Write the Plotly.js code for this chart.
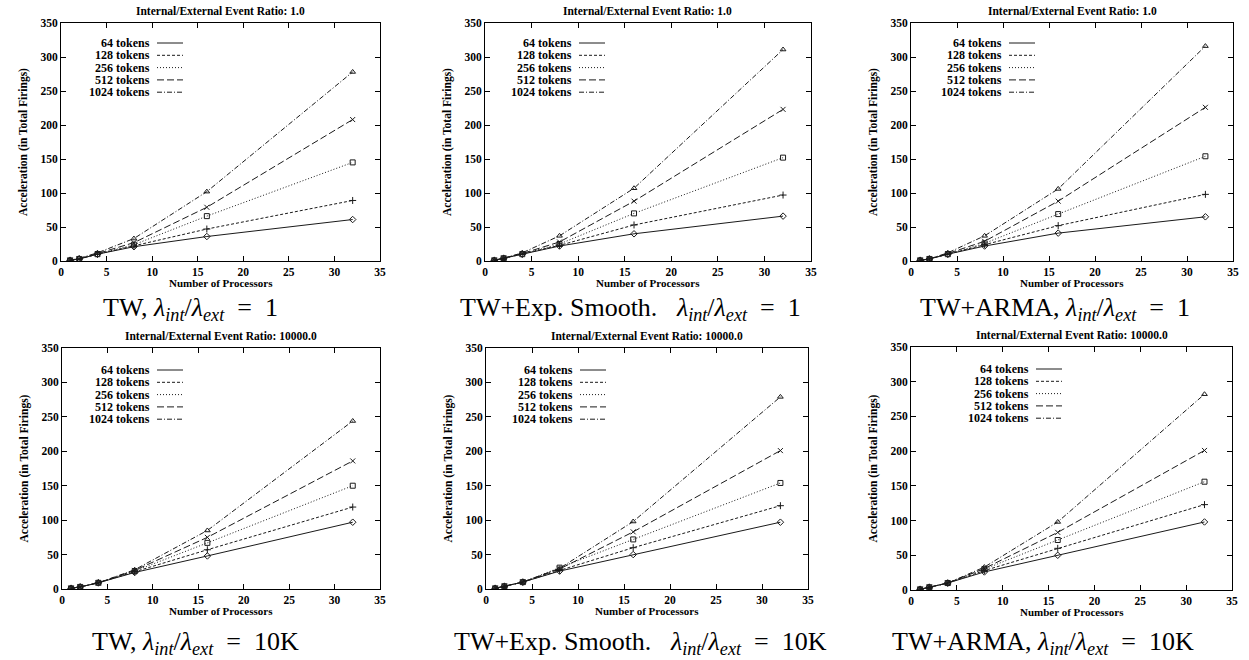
<!DOCTYPE html>
<html>
<head>
<meta charset="utf-8">
<script src="https://cdn.plot.ly/plotly-3.0.1.min.js"></script>
<style>html,body{margin:0;padding:0;background:#fff;}#chart{width:1249px;height:660px;}</style>
</head>
<body>
<div id="chart"></div>
<script>
// ---------- data ----------
const processors = [1, 2, 4, 8, 16, 32];
const tokenLabels = ['64 tokens', '128 tokens', '256 tokens', '512 tokens', '1024 tokens'];
const panelTitles = [
  'Internal/External Event Ratio: 1.0',
  'Internal/External Event Ratio: 1.0',
  'Internal/External Event Ratio: 1.0',
  'Internal/External Event Ratio: 10000.0',
  'Internal/External Event Ratio: 10000.0',
  'Internal/External Event Ratio: 10000.0'
];
const methodNames = ['TW,', 'TW+Exp. Smooth.', 'TW+ARMA,', 'TW,', 'TW+Exp. Smooth.', 'TW+ARMA,'];
const ratioLabels = ['1', '1', '1', '10K', '10K', '10K'];
const xTitle = 'Number of Processors';
const yTitle = 'Acceleration (in Total Firings)';

// rows: 64, 128, 256, 512, 1024 tokens
const twRatio1 = [
  [1, 3, 10, 21, 36, 61],
  [1, 3, 10, 22, 47, 89],
  [1, 3, 10, 24, 66, 145],
  [1, 3, 11, 27, 79, 208],
  [1, 4, 12, 33, 102, 278]
];
const expRatio1 = [
  [1, 4, 10, 22, 40, 66],
  [1, 4, 10, 23, 53, 97],
  [1, 4, 10, 25, 70, 152],
  [1, 4, 11, 28, 88, 223],
  [1, 4, 12, 37, 107, 311]
];
const armaRatio1 = [
  [1, 3, 10, 22, 41, 65],
  [1, 3, 10, 24, 52, 98],
  [1, 3, 10, 26, 69, 154],
  [1, 3, 11, 29, 88, 226],
  [1, 3, 12, 37, 106, 316]
];
const twRatio10K = [
  [1, 3, 9, 24, 48, 97],
  [1, 3, 9, 25, 57, 119],
  [1, 3, 9, 26, 67, 150],
  [1, 3, 9, 27, 75, 186],
  [1, 3, 9, 28, 85, 244]
];
const expRatio10K = [
  [1, 4, 10, 26, 50, 97],
  [1, 4, 10, 27, 60, 121],
  [1, 4, 10, 31, 72, 154],
  [1, 4, 10, 29, 83, 201],
  [1, 4, 10, 30, 98, 279]
];
const armaRatio10K = [
  [1, 4, 10, 26, 50, 98],
  [1, 4, 10, 28, 60, 123],
  [1, 4, 10, 30, 72, 156],
  [1, 4, 10, 31, 83, 201],
  [1, 4, 10, 33, 98, 282]
];
const panelData = [twRatio1, expRatio1, armaRatio1, twRatio10K, expRatio10K, armaRatio10K];

// ---------- layout / style ----------
const W = 1249, H = 660;
// plot frames in pixels: [left, right, top, bottom]
const frames = [
  [61, 380, 23, 261],
  [485, 811, 23, 261],
  [911, 1233, 23, 261],
  [62, 380, 348, 589],
  [486, 808, 348, 589],
  [911, 1232, 347, 590]
];
// legend text right edge offset from frame left, first-row offset from frame top
const legendPos = [[91, 20], [89, 20], [93, 20], [90, 22], [89, 22], [120, 22]];
const captionPos = [[190, 309], [630, 309], [1055, 309], [195, 643], [640, 643], [1043, 643]];
const methodGap = ['\u00a0', '\u00a0\u00a0\u00a0', '\u00a0', '\u00a0', '\u00a0\u00a0\u00a0', '\u00a0'];
const dashes = ['solid', '3px,2px', '1px,2px', '7px,3px', '5px,2px,1px,2px'];
const symbols = ['diamond-open', 'cross-thin-open', 'square-open', 'x-thin-open', 'triangle-up-open'];
const ink = '#1a1a1a';
const serif = 'Liberation Serif, Times New Roman, serif';

const px = v => v / W;
const py = v => 1 - v / H;
const captionText = p => methodNames[p] + methodGap[p] +
  '<i>λ<sub>int</sub></i>/<i>λ<sub>ext</sub></i>' +
  '\u00a0\u00a0=\u00a0\u00a0' + ratioLabels[p];

const traces = [];
const layout = {
  width: W, height: H,
  margin: {l: 0, r: 0, t: 0, b: 0},
  paper_bgcolor: '#fff', plot_bgcolor: '#fff',
  showlegend: false,
  font: {family: serif, color: ink},
  annotations: [], shapes: []
};

panelData.forEach((series, p) => {
  const n = p + 1;
  const sfx = n === 1 ? '' : String(n);
  const [L, R, T, B] = frames[p];
  series.forEach((vals, k) => {
    traces.push({
      x: processors, y: vals, name: tokenLabels[k],
      xaxis: 'x' + sfx, yaxis: 'y' + sfx,
      type: 'scatter', mode: 'lines+markers',
      line: {color: ink, width: 1, dash: dashes[k]},
      marker: {symbol: symbols[k], size: 5, color: ink, line: {color: ink, width: 1}}
    });
  });
  const axCommon = {
    showline: true, linecolor: '#000', linewidth: 1, mirror: 'ticks',
    ticks: 'inside', ticklen: 5, tickcolor: '#000', showgrid: false, zeroline: false,
    tickfont: {family: serif, size: 11.5, weight: 'bold', color: '#000'},
    fixedrange: true
  };
  layout['xaxis' + sfx] = Object.assign({}, axCommon, {
    domain: [px(L), px(R)], anchor: 'y' + sfx, range: [0, 35], dtick: 5, tick0: 0
  });
  layout['yaxis' + sfx] = Object.assign({}, axCommon, {
    domain: [py(B), py(T)], anchor: 'x' + sfx, range: [0, 350], dtick: 50, tick0: 0,
    title: {text: yTitle, font: {family: serif, size: 11.5, weight: 'bold', color: '#000'}, standoff: 10}
  });
  // x-axis title (placed close under the tick labels, as in the original)
  layout.annotations.push({
    xref: 'paper', yref: 'paper', x: px((L + R) / 2), y: py(B + 22),
    text: xTitle, showarrow: false, xanchor: 'center', yanchor: 'middle',
    font: {family: serif, size: 11, weight: 'bold', color: '#000'}
  });
  // panel title
  layout.annotations.push({
    xref: 'paper', yref: 'paper', x: px((L + R) / 2), y: py(T - 12),
    text: panelTitles[p], showarrow: false, xanchor: 'center', yanchor: 'middle',
    font: {family: serif, size: 11.5, weight: 'bold', color: '#000'}
  });
  // legend (text then line sample, gnuplot style)
  const [lx, ly] = legendPos[p];
  tokenLabels.forEach((lab, k) => {
    const yy = T + ly + k * 12.3;
    layout.annotations.push({
      xref: 'paper', yref: 'paper', x: px(L + lx), y: py(yy),
      text: lab, showarrow: false, xanchor: 'right', yanchor: 'middle',
      font: {family: serif, size: 12, weight: 'bold', color: '#000'}
    });
    layout.shapes.push({
      type: 'line', xref: 'paper', yref: 'paper',
      x0: px(L + lx + 5), x1: px(L + lx + 31), y0: py(yy), y1: py(yy),
      line: {color: ink, width: 1, dash: dashes[k]}
    });
  });
  // caption under the panel
  const [cx, cy] = captionPos[p];
  layout.annotations.push({
    xref: 'paper', yref: 'paper', x: px(cx), y: py(cy),
    text: captionText(p), showarrow: false, xanchor: 'center', yanchor: 'middle',
    font: {family: serif, size: 26, color: '#000'}
  });
});

Plotly.newPlot('chart', traces, layout, {staticPlot: true, displayModeBar: false});
</script>
</body>
</html>
